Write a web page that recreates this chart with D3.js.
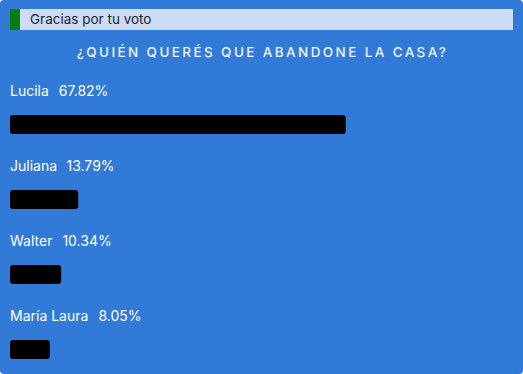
<!DOCTYPE html>
<html>
<head>
<meta charset="utf-8">
<script src="https://cdn.jsdelivr.net/npm/d3@7"></script>
<style>
  html, body { margin: 0; padding: 0; background: #ffffff; }
  svg { display: block; }
</style>
</head>
<body>
<script>
// poll results
const candidates = ["Lucila", "Juliana", "Walter", "María Laura"];
const percents = [67.82, 13.79, 10.34, 8.05];
const titleText = "¿QUIÉN QUERÉS QUE ABANDONE LA CASA?";
const noticeText = "Gracias por tu voto";

const width = 523;
const height = 374;
const font = "Inter, sans-serif";

const svg = d3.select("body").append("svg")
    .attr("width", width)
    .attr("height", height);

// panel
svg.append("rect")
    .attr("width", width)
    .attr("height", height)
    .attr("rx", 4)
    .attr("fill", "#317ad8");

// notice strip
svg.append("rect")
    .attr("x", 10).attr("y", 9)
    .attr("width", 503).attr("height", 21)
    .attr("fill", "#cddcf5");
svg.append("rect")
    .attr("x", 10).attr("y", 9)
    .attr("width", 10).attr("height", 21)
    .attr("fill", "#0a7d12");
svg.append("text")
    .attr("x", 30).attr("y", 24)
    .attr("font-family", font)
    .attr("font-size", 13.5)
    .attr("fill", "#1d2430")
    .text(noticeText);

// title
svg.append("text")
    .attr("x", width / 2 + 1).attr("y", 57)
    .attr("text-anchor", "middle")
    .attr("font-family", font)
    .attr("font-size", 13.5)
    .attr("font-weight", 500)
    .attr("letter-spacing", 2.4)
    .attr("fill", "#eef3fc")
    .text(titleText);

const x = d3.scaleLinear()
    .domain([0, 100])
    .range([0, 495]);

const y = d3.scaleBand()
    .domain(candidates)
    .range([78, 378])
    .paddingInner(0);

const rows = svg.append("g")
    .selectAll("g")
    .data(candidates)
    .enter().append("g")
    .attr("transform", d => `translate(10,${y(d)})`);

const label = rows.append("text")
    .attr("y", 18)
    .attr("font-family", font)
    .attr("font-size", 14)
    .attr("fill", "#ffffff");
label.append("tspan").text(d => d);
label.append("tspan")
    .attr("dx", 10)
    .text((d, i) => percents[i].toFixed(2) + "%");

rows.append("rect")
    .attr("y", 37)
    .attr("height", 19)
    .attr("rx", 3)
    .attr("width", (d, i) => x(percents[i]))
    .attr("fill", "#000000");
</script>
</body>
</html>
